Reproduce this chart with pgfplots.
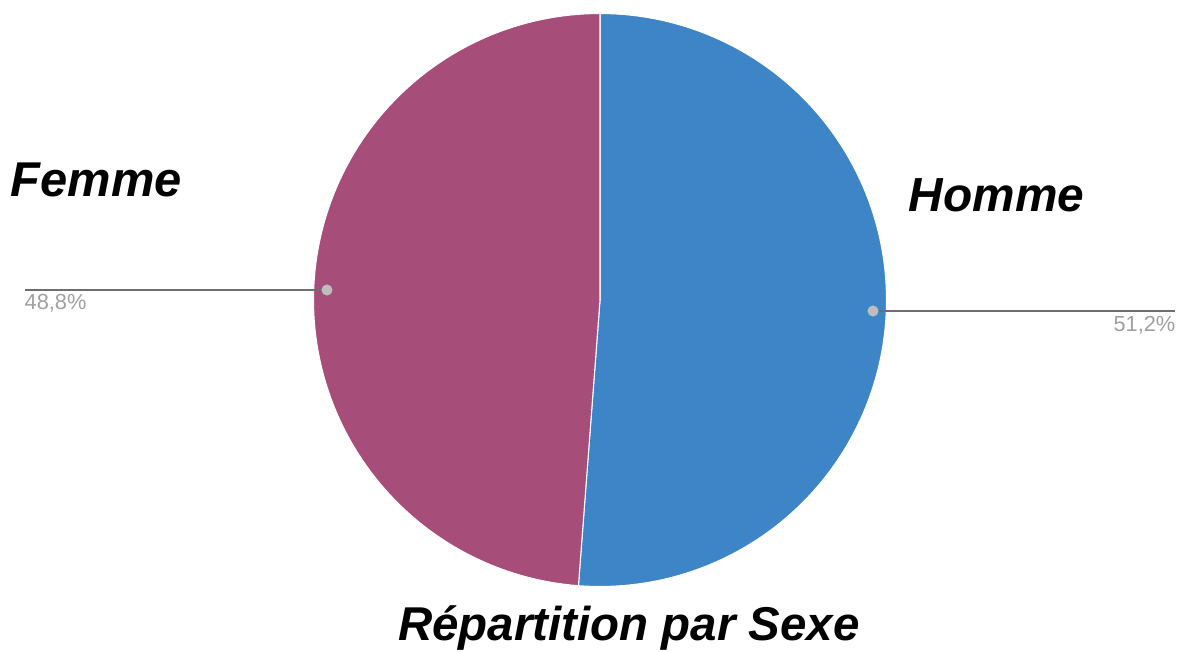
\documentclass[border=0pt]{standalone}
\usepackage{pgfplots}
\pgfplotsset{compat=1.18}
\usepackage{fontspec}
\setmainfont{Liberation Sans}
\definecolor{homme}{HTML}{3D85C6}
\definecolor{femme}{HTML}{A64D79}
\definecolor{lbl}{HTML}{A0A0A0}
\definecolor{dot}{HTML}{BDBDBD}
\definecolor{leader}{HTML}{6E6E6E}
\begin{document}
\begin{tikzpicture}
\begin{axis}[
  scale only axis, width=11.98cm, height=6.51cm,
  xmin=0, xmax=1198, ymin=0, ymax=651,
  hide axis, clip=false,
]
\path (axis cs:0,0) rectangle (axis cs:1198,651);
% values: Homme 51.2, Femme 48.8 -> angles clockwise from top
\pgfmathsetmacro{\aH}{51.2*3.6}
% Homme wedge
\addplot[fill=homme, draw=white, line width=0.3pt, domain=0:\aH, samples=120, variable=\t]
  ({600+286.5*sin(\t)}, {351+286.5*cos(\t)}) -- (axis cs:600,351) -- cycle;
% Femme wedge
\addplot[fill=femme, draw=white, line width=0.3pt, domain=\aH:360, samples=120, variable=\t]
  ({600+286.5*sin(\t)}, {351+286.5*cos(\t)}) -- (axis cs:600,351) -- cycle;
% leader lines
\addplot[leader, line width=0.7pt, mark=*, mark indices={1}, mark size=1.2pt,
  mark options={fill=dot, draw=dot}] coordinates {(327,361) (25,361)};
\addplot[leader, line width=0.7pt, mark=*, mark indices={1}, mark size=1.2pt,
  mark options={fill=dot, draw=dot}] coordinates {(873,340) (1175,340)};
% percentage labels
\node[anchor=west, text=lbl, font=\fontsize{6.2pt}{7pt}\selectfont, inner sep=0pt] at (axis cs:24,348) {48,8\%};
\node[anchor=east, text=lbl, font=\fontsize{6.2pt}{7pt}\selectfont, inner sep=0pt] at (axis cs:1176,326) {51,2\%};
% category labels
\node[font=\fontsize{13.9pt}{16pt}\selectfont\bfseries\itshape, inner sep=0pt] at (axis cs:96.5,471) {Femme};
\node[font=\fontsize{13.6pt}{16pt}\selectfont\bfseries\itshape, inner sep=0pt] at (axis cs:996.5,456) {Homme};
% title
\node[font=\fontsize{13.5pt}{16pt}\selectfont\bfseries\itshape, inner sep=0pt] at (axis cs:629,23) {Répartition par Sexe};
\end{axis}
\end{tikzpicture}
\end{document}
